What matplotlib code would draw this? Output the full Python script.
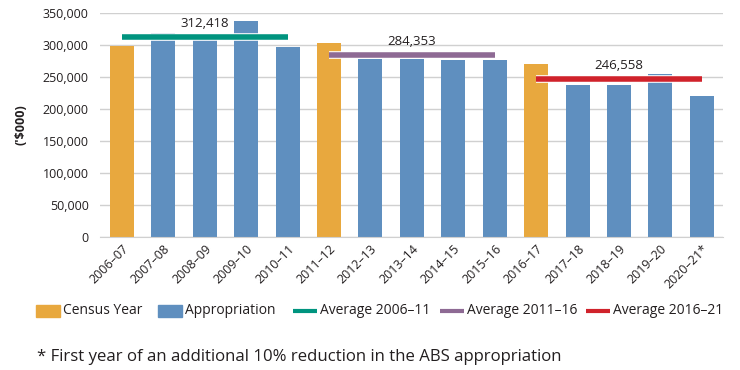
import matplotlib
matplotlib.use('Agg')
import matplotlib.pyplot as plt
import matplotlib.patheffects as pe
from matplotlib.patches import Rectangle
from matplotlib.lines import Line2D
import numpy as np

plt.rcParams['font.family'] = ['Open Sans', 'DejaVu Sans']

# data
years = ['2006–07', '2007–08', '2008–09', '2009–10', '2010–11',
         '2011–12', '2012–13', '2013–14', '2014–15', '2015–16',
         '2016–17', '2017–18', '2018–19', '2019–20', '2020–21*']
funding = [299300, 319200, 308000, 338500, 297200,
           304000, 278400, 278400, 276900, 276900,
           271100, 237700, 237700, 255400, 220500]
census = [True, False, False, False, False,
          True, False, False, False, False,
          True, False, False, False, False]
avg_labels = ['Average 2006–11', 'Average 2011–16', 'Average 2016–21']
avg_values = [312418, 284353, 246558]
avg_ranges = [(0, 4), (5, 9), (10, 14)]

c_census = '#E8A83E'
c_approp = '#5F8FBF'
avg_colors = ['#00947F', '#8E6A94', '#D0222B']
grid_c = '#D0D0D0'
txt_c = '#231F20'

W, H = 740, 370
fig = plt.figure(figsize=(7.4, 3.7), dpi=100)
ax = fig.add_axes([0.135, 0.36, 0.842, 0.604])

x = np.arange(len(years))
colors = [c_census if c else c_approp for c in census]
ax.bar(x, funding, width=0.58, color=colors, zorder=2)

for (a, b), v, col in zip(avg_ranges, avg_values, avg_colors):
    ax.plot([a, b], [v, v], color=col, lw=4, solid_capstyle='butt', zorder=3,
            path_effects=[pe.Stroke(linewidth=5.5, foreground='white'), pe.Normal()])
    ax.annotate(f'{v:,}', xy=((a + b) / 2, v), xytext=(0, 5), textcoords='offset points',
                ha='center', va='bottom', fontsize=9.5, color=txt_c, zorder=4)

ax.set_xlim(-0.53, 14.51)
ax.set_ylim(0, 350000)
ax.set_yticks(np.arange(0, 350001, 50000))
ax.yaxis.set_major_formatter(matplotlib.ticker.FuncFormatter(lambda v, p: f'{int(v):,}'))
ax.set_xticks(x)
ax.set_xticklabels(years, rotation=45, ha='right', rotation_mode='anchor')
ax.tick_params(axis='both', length=0, labelsize=9, labelcolor=txt_c)
ax.tick_params(axis='x', pad=4)
ax.tick_params(axis='y', pad=8)
ax.grid(axis='y', color=grid_c, lw=1, zorder=0)
for s in ['top', 'right', 'left']:
    ax.spines[s].set_visible(False)
ax.spines['bottom'].set_color(grid_c)
ax.set_axisbelow(True)
ax.set_ylabel("('$000)", fontsize=9, fontweight='bold', color=txt_c, labelpad=11)

# legend, placed by hand in pixel positions
leg_y = 1 - 311 / H
leg_items = [('patch', c_census, 'Census Year', 36),
             ('patch', c_approp, 'Appropriation', 158)] + \
            [('line', c, l, px) for c, l, px in zip(avg_colors, avg_labels, [293, 440, 586])]
for kind, col, lab, px in leg_items:
    if kind == 'patch':
        fig.add_artist(Rectangle((px / W, leg_y - 6 / H), 24 / W, 12 / H,
                                 color=col, transform=fig.transFigure))
    else:
        fig.add_artist(Line2D([px / W, (px + 24) / W], [leg_y, leg_y], color=col,
                              lw=3, solid_capstyle='butt', transform=fig.transFigure))
    fig.text((px + 27) / W, leg_y, lab, fontsize=10, color=txt_c, va='center', ha='left')

fig.text(0.05, 1 - 357 / H, '* First year of an additional 10% reduction in the ABS appropriation',
         fontsize=12.1, color=txt_c, va='center')

fig.savefig('out.png', dpi=100)
